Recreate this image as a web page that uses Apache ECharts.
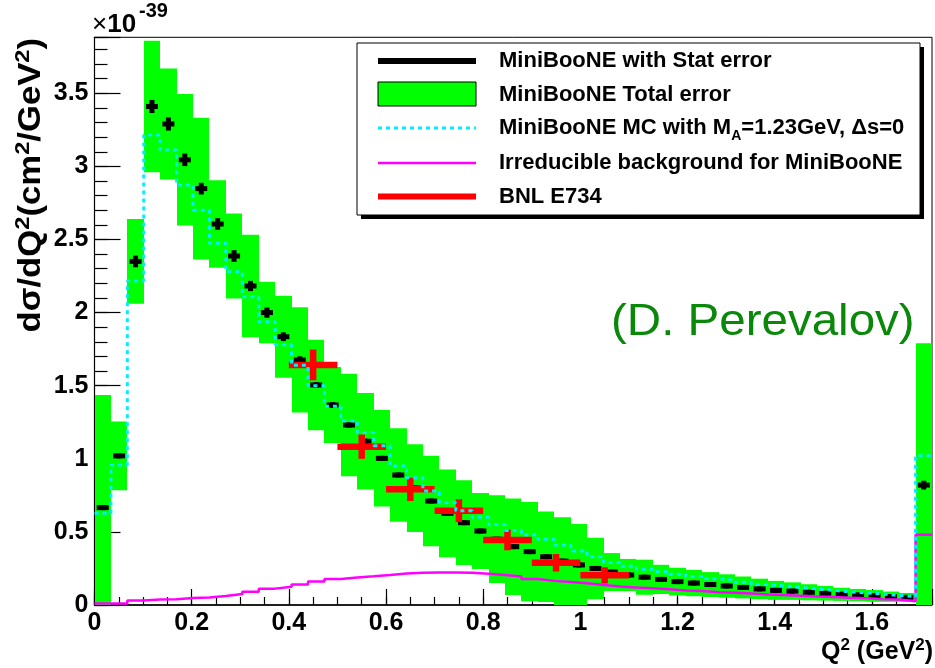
<!DOCTYPE html>
<html>
<head>
<meta charset="utf-8">
<script src="https://cdn.jsdelivr.net/npm/echarts@6/dist/echarts.min.js"></script>
<style>
  html, body { margin: 0; padding: 0; background: #fff; }
  #chart { width: 935px; height: 668px; }
</style>
</head>
<body>
<div id="chart"></div>
<script>
// Q2 binning of the MiniBooNE histogram (51 bins incl. the last one at the right edge)
var BIN_W = 0.0338;
var X_MAX = 1.7238;
var Y_MAX = 3.883;

// MiniBooNE data, units of 1e-39 cm2/GeV2
var miniVals = [0.666, 1.02, 2.35, 3.41, 3.29, 3.045, 2.848, 2.606, 2.387, 2.182,
  2.0, 1.835, 1.676, 1.505, 1.368, 1.231, 1.12, 1.003, 0.889, 0.80,
  0.711, 0.627, 0.563, 0.506, 0.45, 0.399, 0.365, 0.33, 0.30, 0.274,
  0.25, 0.225, 0.205, 0.19, 0.175, 0.16, 0.15, 0.14, 0.13, 0.12,
  0.11, 0.10, 0.095, 0.087, 0.08, 0.073, 0.068, 0.062, 0.057, 0.052,
  0.82];
var statErr = [0.012, 0.015, 0.04, 0.045, 0.045, 0.043, 0.04, 0.04, 0.04, 0.035,
  0.035, 0.03, 0.025, 0.02, 0.02, 0.018, 0.016, 0.015, 0.015, 0.014,
  0.013, 0.012, 0.012, 0.011, 0.011, 0.01, 0.01, 0.01, 0.01, 0.01,
  0.009, 0.009, 0.009, 0.008, 0.008, 0.008, 0.008, 0.007, 0.007, 0.007,
  0.007, 0.006, 0.006, 0.006, 0.006, 0.006, 0.005, 0.005, 0.005, 0.005,
  0.03];
var totalErr = [0.77, 0.235, 0.29, 0.45, 0.38, 0.45, 0.485, 0.30, 0.29, 0.35,
  0.21, 0.28, 0.36, 0.31, 0.26, 0.35, 0.33, 0.33, 0.32, 0.30,
  0.31, 0.30, 0.29, 0.26, 0.30, 0.33, 0.34, 0.31, 0.30, 0.28,
  0.21, 0.13, 0.11, 0.12, 0.10, 0.095, 0.09, 0.085, 0.08, 0.075,
  0.07, 0.065, 0.06, 0.055, 0.05, 0.045, 0.042, 0.04, 0.035, 0.03,
  0.97];
// MC with MA=1.23 GeV
var mcVals = [0.627, 0.958, 2.216, 3.215, 3.112, 2.873, 2.70, 2.474, 2.28, 2.109,
  1.938, 1.78, 1.64, 1.50, 1.36, 1.26, 1.18, 1.09, 0.95, 0.87,
  0.78, 0.70, 0.645, 0.60, 0.55, 0.51, 0.48, 0.45, 0.41, 0.37,
  0.33, 0.29, 0.265, 0.245, 0.228, 0.21, 0.195, 0.18, 0.17, 0.155,
  0.14, 0.13, 0.12, 0.11, 0.10, 0.09, 0.082, 0.075, 0.065, 0.057,
  1.02];
// irreducible background
var bkgVals = [0.01, 0.01, 0.03, 0.038, 0.04, 0.048, 0.052, 0.062, 0.075, 0.091,
  0.112, 0.125, 0.141, 0.16, 0.178, 0.188, 0.196, 0.205, 0.215, 0.22,
  0.222, 0.222, 0.22, 0.214, 0.206, 0.195, 0.178, 0.165, 0.158, 0.148,
  0.137, 0.127, 0.12, 0.114, 0.108, 0.1, 0.096, 0.088, 0.083, 0.078,
  0.072, 0.068, 0.064, 0.058, 0.054, 0.05, 0.046, 0.04, 0.037, 0.025,
  0.48];
// BNL E734
var bnlQ2 = [0.45, 0.55, 0.65, 0.75, 0.85, 0.95, 1.05];
var bnlVals = [1.642, 1.083, 0.791, 0.645, 0.445, 0.289, 0.203];
var bnlErr = [0.105, 0.083, 0.08, 0.078, 0.071, 0.06, 0.055];
var bnlHalfW = 0.05;

var FONT = 'Liberation Sans, Arial, Helvetica, sans-serif';

// build series data
var boxData = [], crossData = [], mcLine = [], bkgLine = [], bnlData = [];
for (var i = 0; i < miniVals.length; i++) {
  boxData.push([i * BIN_W, (i + 1) * BIN_W, miniVals[i] - totalErr[i], miniVals[i] + totalErr[i]]);
  crossData.push([(i + 0.5) * BIN_W, miniVals[i], statErr[i]]);
  mcLine.push([i * BIN_W, mcVals[i]]);
  bkgLine.push([i * BIN_W, bkgVals[i]]);
}
mcLine.push([miniVals.length * BIN_W, mcVals[mcVals.length - 1]]);
bkgLine.push([miniVals.length * BIN_W, bkgVals[bkgVals.length - 1]]);
for (var j = 0; j < bnlQ2.length; j++) {
  bnlData.push([bnlQ2[j], bnlVals[j], bnlHalfW, bnlErr[j]]);
}

function stepLabel(step) {
  return function (v) {
    var r = Math.round(v / step);
    return Math.abs(v - r * step) < 1e-6 ? String(+(r * step).toFixed(1)) : '';
  };
}

var chart = echarts.init(document.getElementById('chart'));

var options = {
  animation: false,
  backgroundColor: '#fff',
  textStyle: { fontFamily: FONT },
  grid: {
    left: 94.5, right: 1, top: 37.3, bottom: 63,
    show: true, borderColor: '#000', borderWidth: 1, backgroundColor: 'transparent'
  },
  xAxis: [
    {
      type: 'value', min: 0, max: X_MAX, interval: 0.2, position: 'bottom',
      axisLine: { onZero: false, lineStyle: { color: '#000', width: 1.5 } },
      axisTick: { inside: true, length: 16, lineStyle: { color: '#000', width: 1.2 } },
      axisLabel: { formatter: stepLabel(0.2), color: '#000', fontSize: 25, fontWeight: 'bold', fontFamily: FONT, margin: 6 },
      splitLine: { show: false }
    },
    {
      type: 'value', min: 0, max: X_MAX, interval: 0.05, position: 'bottom',
      axisLine: { show: false, onZero: false },
      axisTick: { inside: true, length: 8, lineStyle: { color: '#000', width: 1.2 } },
      axisLabel: { show: false },
      splitLine: { show: false }
    }
  ],
  yAxis: [
    {
      type: 'value', min: 0, max: Y_MAX, interval: 0.5, position: 'left',
      axisLine: { show: true, onZero: false, lineStyle: { color: '#000', width: 1.2 } },
      axisTick: { inside: true, length: 26, lineStyle: { color: '#000', width: 1.2 } },
      axisLabel: { formatter: stepLabel(0.5), color: '#000', fontSize: 25, fontWeight: 'bold', fontFamily: FONT, margin: 6 },
      splitLine: { show: false }
    },
    {
      type: 'value', min: 0, max: Y_MAX, interval: 0.1, position: 'left',
      axisLine: { show: false, onZero: false },
      axisTick: { inside: true, length: 13, lineStyle: { color: '#000', width: 1.2 } },
      axisLabel: { show: false },
      splitLine: { show: false }
    }
  ],
  series: [
    {
      name: 'MiniBooNE Total error',
      type: 'custom',
      xAxisIndex: 0, yAxisIndex: 0,
      encode: { x: [0, 1], y: [2, 3] },
      data: boxData,
      renderItem: function (params, api) {
        var p0 = api.coord([api.value(0), api.value(3)]);
        var p1 = api.coord([api.value(1), api.value(2)]);
        var x0 = Math.round(p0[0]), x1 = Math.round(p1[0]);
        var cs = params.coordSys;
        var rect = echarts.graphic.clipRectByRect(
          { x: x0, y: p0[1], width: x1 - x0, height: p1[1] - p0[1] },
          { x: cs.x, y: cs.y, width: cs.width, height: cs.height }
        );
        return rect && { type: 'rect', shape: rect, style: { fill: '#00ff00' } };
      }
    },
    {
      name: 'Irreducible background for MiniBooNE',
      type: 'line', step: 'end', symbol: 'none',
      xAxisIndex: 0, yAxisIndex: 0,
      data: bkgLine,
      lineStyle: { color: '#ff00ff', width: 2.5 }
    },
    {
      name: 'MiniBooNE MC',
      type: 'line', step: 'end', symbol: 'none',
      xAxisIndex: 0, yAxisIndex: 0,
      data: mcLine,
      lineStyle: { color: '#00eeff', width: 3, type: [4, 4] }
    },
    {
      name: 'MiniBooNE with Stat error',
      type: 'custom',
      xAxisIndex: 0, yAxisIndex: 0,
      encode: { x: 0, y: 1 },
      data: crossData,
      renderItem: function (params, api) {
        var c = api.coord([api.value(0), api.value(1)]);
        var top = api.coord([api.value(0), api.value(1) + api.value(2)])[1];
        var bot = api.coord([api.value(0), api.value(1) - api.value(2)])[1];
        var h = Math.max(bot - top, 5);
        return {
          type: 'group',
          children: [
            { type: 'rect', shape: { x: c[0] - 6, y: c[1] - 2.5, width: 12, height: 5 }, style: { fill: '#000' } },
            { type: 'rect', shape: { x: c[0] - 2.5, y: c[1] - h / 2, width: 5, height: h }, style: { fill: '#000' } }
          ]
        };
      }
    },
    {
      name: 'BNL E734',
      type: 'custom',
      xAxisIndex: 0, yAxisIndex: 0,
      encode: { x: 0, y: 1 },
      data: bnlData,
      renderItem: function (params, api) {
        var x = api.value(0), y = api.value(1), dx = api.value(2), dy = api.value(3);
        var l = api.coord([x - dx, y]), r = api.coord([x + dx, y]);
        var t = api.coord([x, y + dy]), b = api.coord([x, y - dy]);
        return {
          type: 'group',
          children: [
            { type: 'line', shape: { x1: l[0], y1: l[1], x2: r[0], y2: r[1] }, style: { stroke: '#ff0000', lineWidth: 6.5 } },
            { type: 'line', shape: { x1: t[0], y1: t[1], x2: b[0], y2: b[1] }, style: { stroke: '#ff0000', lineWidth: 6.5 } }
          ]
        };
      }
    }
  ],
  graphic: [
    // exponent
    {
      type: 'text', left: 92, top: 12,
      style: {
        text: '{x|\u00d7}{n|10}',
        rich: {
          x: { fontSize: 26, fontFamily: FONT, color: '#000' },
          n: { fontSize: 26, fontWeight: 'bold', fontFamily: FONT, color: '#000' }
        }
      }
    },
    { type: 'text', left: 139, top: 1, style: { text: '-39', font: 'bold 20px ' + FONT, fill: '#000' } },
    // y title
    {
      type: 'text', x: 31, y: 38, rotation: Math.PI / 2, scaleX: 1.12,
      style: {
        text: '{t|d\u03c3/dQ}{s|2}{t|(cm}{s|2}{t|/GeV}{s|2}{t|)}',
        align: 'right', verticalAlign: 'middle',
        rich: {
          t: { fontSize: 31, fontWeight: 'bold', fontFamily: FONT, color: '#000', lineHeight: 36 },
          s: { fontSize: 21, fontWeight: 'bold', fontFamily: FONT, color: '#000', lineHeight: 21, verticalAlign: 'top' }
        }
      }
    },
    // x title
    {
      type: 'text', x: 933, y: 652,
      style: {
        text: '{t|Q}{s|2}{t| (GeV}{s|2}{t|)}',
        align: 'right', verticalAlign: 'middle',
        rich: {
          t: { fontSize: 25, fontWeight: 'bold', fontFamily: FONT, color: '#000', lineHeight: 30 },
          s: { fontSize: 17, fontWeight: 'bold', fontFamily: FONT, color: '#000', lineHeight: 17, verticalAlign: 'top' }
        }
      }
    },
    // author note
    {
      type: 'text', x: 611, y: 323, scaleX: 1.08,
      style: { text: '(D. Perevalov)', font: '44px ' + FONT, fill: '#0a880a', align: 'left', verticalAlign: 'middle' }
    },
    // legend
    { type: 'rect', shape: { x: 361, y: 47, width: 563, height: 172 }, style: { fill: '#000' }, z: 10 },
    { type: 'rect', shape: { x: 357, y: 43, width: 563, height: 172 }, style: { fill: '#fff', stroke: '#000', lineWidth: 1 }, z: 11 },
    { type: 'line', shape: { x1: 378, y1: 61, x2: 476, y2: 61 }, style: { stroke: '#000', lineWidth: 6 }, z: 12 },
    { type: 'rect', shape: { x: 378, y: 82, width: 98, height: 24 }, style: { fill: '#00ff00', stroke: '#000', lineWidth: 1 }, z: 12 },
    { type: 'line', shape: { x1: 378, y1: 128, x2: 476, y2: 128 }, style: { stroke: '#00eeff', lineWidth: 3, lineDash: [4, 4] }, z: 12 },
    { type: 'line', shape: { x1: 378, y1: 163, x2: 476, y2: 163 }, style: { stroke: '#ff00ff', lineWidth: 2.5 }, z: 12 },
    { type: 'line', shape: { x1: 378, y1: 196.5, x2: 476, y2: 196.5 }, style: { stroke: '#ff0000', lineWidth: 6 }, z: 12 },
    { type: 'text', x: 499, y: 61, z: 12, style: { text: 'MiniBooNE with Stat error', font: 'bold 22px ' + FONT, fill: '#000', verticalAlign: 'middle' } },
    { type: 'text', x: 499, y: 94.5, z: 12, style: { text: 'MiniBooNE Total error', font: 'bold 22px ' + FONT, fill: '#000', verticalAlign: 'middle' } },
    {
      type: 'text', x: 499, y: 128, z: 12,
      style: {
        text: '{m|MiniBooNE MC with M}{a|A}{m|=1.23GeV, \u0394s=0}',
        verticalAlign: 'middle',
        rich: {
          m: { fontSize: 22, fontWeight: 'bold', fontFamily: FONT, color: '#000', lineHeight: 30 },
          a: { fontSize: 14, fontWeight: 'bold', fontFamily: FONT, color: '#000', lineHeight: 14, verticalAlign: 'bottom' }
        }
      }
    },
    { type: 'text', x: 499, y: 163, z: 12, style: { text: 'Irreducible background for MiniBooNE', font: 'bold 22px ' + FONT, fill: '#000', verticalAlign: 'middle' } },
    { type: 'text', x: 499, y: 196.5, z: 12, style: { text: 'BNL E734', font: 'bold 22px ' + FONT, fill: '#000', verticalAlign: 'middle' } }
  ]
};

chart.setOption(options);
</script>
</body>
</html>
